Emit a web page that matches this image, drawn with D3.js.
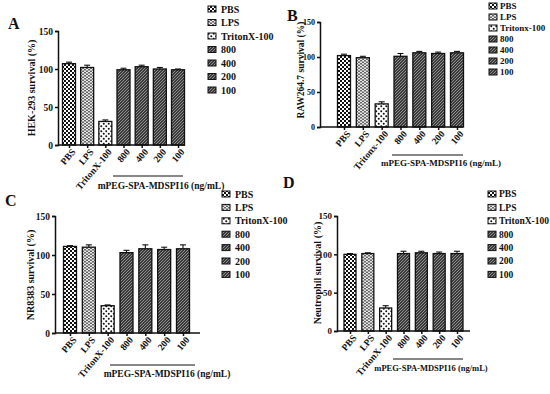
<!DOCTYPE html>
<html><head><meta charset="utf-8">
<script src="https://cdn.jsdelivr.net/npm/d3@7"></script>
<style>body{margin:0;background:#fff}svg{display:block}text{font-family:"Liberation Serif","Times New Roman",serif;font-weight:bold;fill:#111}</style>
</head><body>
<script>
// ---- data ----
const categoriesAC = ["PBS","LPS","TritonX-100","800","400","200","100"];
const categoriesB = ["PBS","LPS","Tritonx-100","800","400","200","100"];
const legendLabelsA = ["PBS","LPS","TritonX-100","800","400","200","100"];
const legendLabelsB = ["PBS","LPS","Tritonx-100","800","400","200","100"];
const yTicks = [0,50,100,150];
const groupLabel = "mPEG-SPA-MDSPI16 (ng/mL)";
const valuesA = [107,102,31,99,103,100,99];
const errorsA = [2,3,2,2,2,2,1];
const valuesB = [102,99,33,101,106,105,106];
const errorsB = [2,2,3,4,2,2,2];
const valuesC = [111,110,35,103,108,107,108];
const errorsC = [1,3,1,3,5,3,5];
const valuesD = [100,101,30,101,102,101,101];
const errorsD = [1,1,3,3,2,2,3];
const yLabels = ["HEK-293 survival (%)","RAW264.7 survival (%)","NR8383 survival (%)","Neutrophil survival (%)"];
const panelLetters = ["A","B","C","D"];
const patternIds = ["pPBS","pLPS","pTri","pM","pM","pM","pM"];

// ---- layout ----
const panels = [
  {letter:[8,29], ax:[58,185], y:[145,31], pts:[69,178], bw:13, br:[113,183,176], gl:[161,189,9.5], yl:[31,88,10], yf:9.5, lg:[208,221,9,13.5,10], cats:categoriesAC, leg:legendLabelsA, vals:valuesA, errs:errorsA},
  {letter:[287,21], ax:[320,463], y:[127,22], pts:[344,457], bw:13, br:[392,463,155], gl:[441,166,9], yl:[301,70,9.5], yf:8, lg:[489,500,6,11,9], cats:categoriesB, leg:legendLabelsB, vals:valuesB, errs:errorsB},
  {letter:[5,206], ax:[55,200], y:[333,216], pts:[70,183], bw:13, br:[110,195,365], gl:[167,377,9.5], yl:[30,275,10], yf:9.5, lg:[222,235,194,13.4,10], cats:categoriesAC, leg:legendLabelsA, vals:valuesC, errs:errorsC},
  {letter:[283,188], ax:[337,470], y:[331,216], pts:[350,457], bw:12, br:[393,463,359], gl:[431,371,8.5], yl:[317,273,10], yf:9, lg:[488,499,194,13.4,9.5], cats:categoriesAC, leg:legendLabelsA, vals:valuesD, errs:errorsD}
];

const svg = d3.select("body").append("svg").attr("width",550).attr("height",394);
const defs = svg.append("defs");
// PBS checker
let p = defs.append("pattern").attr("id","pPBS").attr("width",4).attr("height",4).attr("patternUnits","userSpaceOnUse");
p.append("rect").attr("width",4).attr("height",4).attr("fill","#fff");
p.append("rect").attr("width",2).attr("height",2).attr("fill","#111");
p.append("rect").attr("x",2).attr("y",2).attr("width",2).attr("height",2).attr("fill","#111");
// LPS lighter brick/checker
p = defs.append("pattern").attr("id","pLPS").attr("width",4).attr("height",3).attr("patternUnits","userSpaceOnUse");
p.append("rect").attr("width",4).attr("height",3).attr("fill","#e8e8e8");
p.append("rect").attr("width",2).attr("height",1.5).attr("fill","#666");
p.append("rect").attr("x",2).attr("y",1.5).attr("width",2).attr("height",1.5).attr("fill","#666");
// Triton dots
p = defs.append("pattern").attr("id","pTri").attr("width",5).attr("height",5).attr("patternUnits","userSpaceOnUse");
p.append("rect").attr("width",5).attr("height",5).attr("fill","#fff");
p.append("circle").attr("cx",1.25).attr("cy",1.25).attr("r",1).attr("fill","#111");
p.append("circle").attr("cx",3.75).attr("cy",3.75).attr("r",1).attr("fill","#111");
// mPEG dark diagonal
p = defs.append("pattern").attr("id","pM").attr("width",3).attr("height",3).attr("patternUnits","userSpaceOnUse");
p.append("rect").attr("width",3).attr("height",3).attr("fill","#3a3a3a");
p.append("path").attr("d","M0,3 L3,0 M-1,1 L1,-1 M2,4 L4,2").attr("stroke","#9a9a9a").attr("stroke-width",0.9);

panels.forEach((P,i)=>{
  const g = svg.append("g");
  const y = d3.scaleLinear().domain([0,150]).range(P.y);
  const x = d3.scalePoint().domain(P.cats).range(P.pts);
  // bars
  g.selectAll("rect.bar").data(P.vals).join("rect").attr("class","bar")
    .attr("x",(d,j)=>x(P.cats[j])-P.bw/2).attr("width",P.bw)
    .attr("y",d=>y(d)).attr("height",d=>y(0)-y(d))
    .attr("fill",(d,j)=>`url(#${patternIds[j]})`).attr("stroke","#111").attr("stroke-width",1.3);
  // error bars
  P.vals.forEach((v,j)=>{
    const cx = x(P.cats[j]);
    g.append("line").attr("x1",cx).attr("x2",cx).attr("y1",y(v)).attr("y2",y(v+P.errs[j])).attr("stroke","#111").attr("stroke-width",1.1);
    g.append("line").attr("x1",cx-3).attr("x2",cx+3).attr("y1",y(v+P.errs[j])).attr("y2",y(v+P.errs[j])).attr("stroke","#111").attr("stroke-width",1.1);
  });
  // y axis
  const ya = g.append("g").attr("transform",`translate(${P.ax[0]},0)`)
    .call(d3.axisLeft(y).tickValues(yTicks).tickSize(3).tickPadding(2));
  ya.selectAll("path,line").attr("stroke","#111").attr("stroke-width",1.5);
  ya.selectAll("text").style("font-size",P.yf+"px").style("font-family","'Liberation Serif',serif").style("font-weight","bold").style("fill","#111");
  // x axis
  const xa = g.append("g").attr("transform",`translate(0,${P.y[0]})`)
    .call(d3.axisBottom(x).tickSize(3).tickPadding(2).tickSizeOuter(0));
  xa.select(".domain").attr("d",`M${P.ax[0]},0H${P.ax[1]}`);
  xa.selectAll("path,line").attr("stroke","#111").attr("stroke-width",1.5);
  xa.selectAll("text").style("font-size","9.5px").style("font-family","'Liberation Serif',serif").style("font-weight","bold")
    .attr("text-anchor","end").attr("dy","0.35em").attr("transform","translate(4,5) rotate(-50)").attr("y",0).attr("x",0);
  // bracket + group label
  g.append("line").attr("x1",P.br[0]).attr("x2",P.br[1]).attr("y1",P.br[2]).attr("y2",P.br[2]).attr("stroke","#111").attr("stroke-width",1.2);
  g.append("text").attr("x",P.gl[0]).attr("y",P.gl[1]).attr("text-anchor","middle").style("font-size",P.gl[2]+"px").text(groupLabel);
  // y label
  g.append("text").attr("transform",`translate(${P.yl[0]},${P.yl[1]}) rotate(-90)`).attr("text-anchor","middle").attr("dy","0.35em").style("font-size",P.yl[2]+"px").text(yLabels[i]);
  // panel letter
  g.append("text").attr("x",P.letter[0]).attr("y",P.letter[1]).style("font-size","16px").text(panelLetters[i]);
  // legend
  P.leg.forEach((lab,j)=>{
    const ly = P.lg[2]+j*P.lg[3];
    g.append("rect").attr("x",P.lg[0]).attr("y",ly-3).attr("width",8).attr("height",6)
      .attr("fill",`url(#${patternIds[j]})`).attr("stroke","#111").attr("stroke-width",1);
    g.append("text").attr("x",P.lg[1]).attr("y",ly).attr("dy","0.35em").style("font-size",P.lg[4]+"px").text(lab);
  });
});
</script>
</body></html>
